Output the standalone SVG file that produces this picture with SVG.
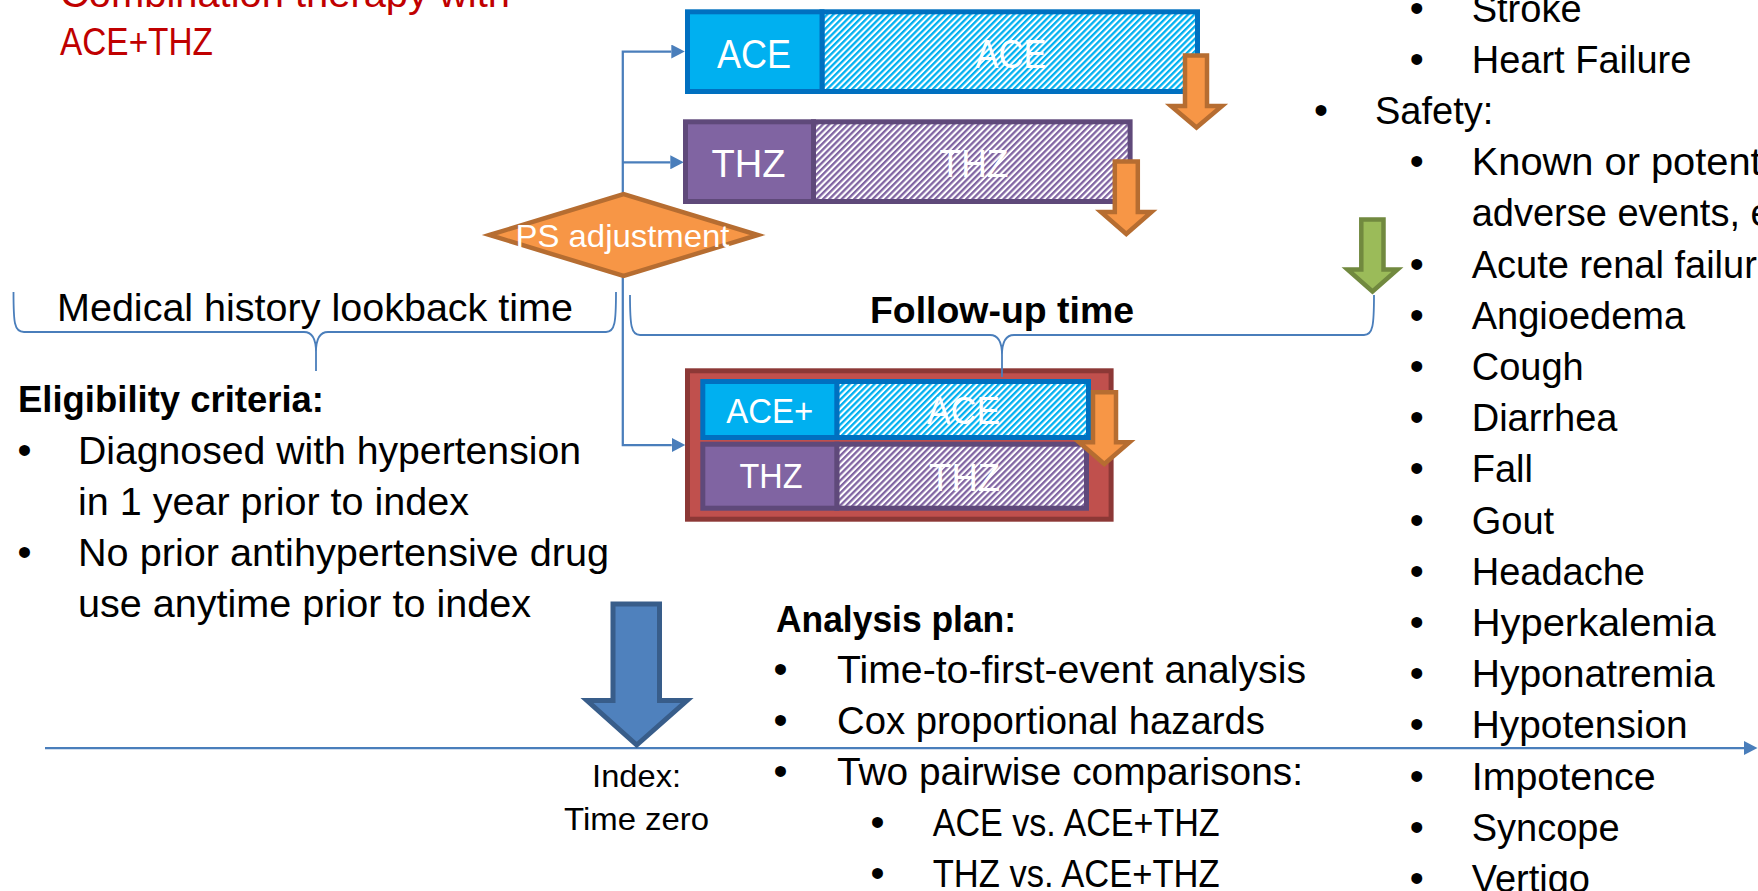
<svg xmlns="http://www.w3.org/2000/svg" width="1758" height="891" viewBox="0 0 1758 891">
<defs>
<style>
text { font-family: "Liberation Sans", Arial, sans-serif; }
.body { font-size: 38px; fill: #000; }
.bul { font-size: 40px; fill: #000; text-anchor: middle; }
.bold { font-size: 37px; font-weight: bold; fill: #000; }
.red { font-size: 39px; fill: #C00000; }
.wt { fill: #fff; text-anchor: middle; }
.conn { stroke: #4A7EBB; stroke-width: 2.25; fill: none; }
.brace { stroke: #4A7EBB; stroke-width: 1.8; fill: none; }
.ace { fill: #00B0F0; stroke: #0070C0; stroke-width: 5; }
.aceh { fill: url(#hatchBlue); stroke: #0070C0; stroke-width: 5; }
.thz { fill: #8064A2; stroke: #5F497A; stroke-width: 5; }
.thzh { fill: url(#hatchPurple); stroke: #5F497A; stroke-width: 5; }
.oarrow { fill: #F79646; stroke: #B66D31; stroke-width: 4.5; }
</style>
<pattern id="hatchBlue" patternUnits="userSpaceOnUse" width="4.4" height="4.4" patternTransform="rotate(45)">
<rect width="4.4" height="4.4" fill="#fff"/>
<rect width="2.3" height="4.4" fill="#00B0F0"/>
</pattern>
<pattern id="hatchPurple" patternUnits="userSpaceOnUse" width="4.4" height="4.4" patternTransform="rotate(45)">
<rect width="4.4" height="4.4" fill="#fff"/>
<rect width="2.3" height="4.4" fill="#8064A2"/>
</pattern>
<marker id="ah" markerUnits="userSpaceOnUse" markerWidth="14" markerHeight="14" refX="0" refY="7" orient="auto">
<path d="M0,0 L13.5,7 L0,14 z" fill="#4A7EBB"/>
</marker>
</defs>
<rect width="1758" height="891" fill="#fff"/>

<g id="title">
<text class="red" x="60" y="7" textLength="450" lengthAdjust="spacingAndGlyphs">Combination therapy with</text>
<text class="red" x="60" y="55" textLength="153" lengthAdjust="spacingAndGlyphs">ACE+THZ</text>
</g>

<g id="connectors">
<path class="conn" d="M 622.8 235 V 51.5 H 671.3" marker-end="url(#ah)"/>
<path class="conn" d="M 622.8 162.3 H 670.3" marker-end="url(#ah)"/>
<path class="conn" d="M 622.8 235 V 445 H 671.8" marker-end="url(#ah)"/>
<path class="conn" stroke-width="2.5" d="M 45 748 H 1744" marker-end="url(#ah)"/>
</g>

<g id="ace-arm">
<rect class="aceh" x="822" y="11.8" width="375.5" height="79.7"/>
<rect class="ace" x="687.5" y="11.8" width="134.5" height="79.7"/>
<text class="wt" x="754" y="68" font-size="40" textLength="74" lengthAdjust="spacingAndGlyphs">ACE</text>
<text class="wt" x="1011" y="68" font-size="40" textLength="71" lengthAdjust="spacingAndGlyphs">ACE</text>
</g>

<g id="thz-arm">
<rect class="thzh" x="813.5" y="121.8" width="316.6" height="79.7"/>
<rect class="thz" x="685.5" y="121.8" width="128" height="79.7"/>
<text class="wt" x="748.5" y="176.7" font-size="39" textLength="74" lengthAdjust="spacingAndGlyphs">THZ</text>
<text class="wt" x="974" y="176.5" font-size="39" textLength="69" lengthAdjust="spacingAndGlyphs">THZ</text>
</g>

<g id="combo-arm">
<rect x="687.5" y="370.8" width="423.6" height="148.4" fill="#C0504D" stroke="#8C3836" stroke-width="5"/>
<rect class="aceh" x="836.8" y="381.5" width="251.7" height="56"/>
<rect class="ace" x="702.8" y="381.5" width="134" height="56"/>
<rect class="thzh" x="836.8" y="444.2" width="249.7" height="64"/>
<rect class="thz" x="702.8" y="444.2" width="134" height="64"/>
<text class="wt" x="769.7" y="423.3" font-size="35" textLength="87" lengthAdjust="spacingAndGlyphs">ACE+</text>
<text class="wt" x="963.6" y="424" font-size="38" textLength="73" lengthAdjust="spacingAndGlyphs">ACE</text>
<text class="wt" x="771" y="488.3" font-size="35" textLength="63" lengthAdjust="spacingAndGlyphs">THZ</text>
<text class="wt" x="964.6" y="491" font-size="39" textLength="71" lengthAdjust="spacingAndGlyphs">THZ</text>
</g>

<g id="ps-adjustment">
<polygon points="489.5,235 623.6,194 757.8,235 623.6,276" fill="#F79646" stroke="#B66D31" stroke-width="4.5"/>
<text class="wt" x="622.5" y="246.7" font-size="32" textLength="214" lengthAdjust="spacingAndGlyphs">PS adjustment</text>
</g>

<g id="end-arrows">
<polygon class="oarrow" points="1185,55.5 1207,55.5 1207,106 1222,106 1196.5,127.5 1171,106 1185,106"/>
<polygon class="oarrow" points="1114.8,161.5 1137.8,161.5 1137.8,212 1151.5,212 1126.3,234 1101,212 1114.8,212"/>
<polygon class="oarrow" points="1093,392.3 1116,392.3 1116,442.3 1129.5,442.3 1104.3,464 1079,442.3 1093,442.3"/>
<polygon points="1361.3,219.5 1383.5,219.5 1383.5,269.5 1397.5,269.5 1372.5,291.5 1347.5,269.5 1361.3,269.5" fill="#9BBB59" stroke="#71893F" stroke-width="4.5"/>
</g>

<g id="braces">
<path class="brace" d="M 13.5 292 C 13.5 322 14 332 24 332 L 304 332 C 312 332 316 338 316 352 L 316 371 M 316 352 C 316 338 320 332 328 332 L 606 332 C 615 332 616 322 616 292"/>
<path class="brace" d="M 630 295 C 630 325 631 335 640 335 L 990 335 C 998 335 1002 341 1002 355 L 1002 377 M 1002 355 C 1002 341 1006 335 1014 335 L 1364 335 C 1373 335 1374 325 1374 295"/>
<text class="body" x="57" y="321" textLength="516" lengthAdjust="spacingAndGlyphs">Medical history lookback time</text>
<text class="bold" x="870" y="323" textLength="264" lengthAdjust="spacingAndGlyphs">Follow-up time</text>
</g>

<g id="index-arrow">
<polygon points="613,604 659.5,604 659.5,700.5 687,700.5 636.7,745 587,700.5 613,700.5" fill="#4F81BD" stroke="#385D8A" stroke-width="5"/>
<text x="636.6" y="786.7" font-size="32" text-anchor="middle" textLength="89" lengthAdjust="spacingAndGlyphs">Index:</text>
<text x="636.6" y="830" font-size="32" text-anchor="middle" textLength="145" lengthAdjust="spacingAndGlyphs">Time zero</text>
</g>

<g id="eligibility">
<text class="bold" x="18" y="412" textLength="306" lengthAdjust="spacingAndGlyphs">Eligibility criteria:</text>
<text class="bul" x="24.5" y="463.5">•</text>
<text class="body" x="78" y="463.5" textLength="503" lengthAdjust="spacingAndGlyphs">Diagnosed with hypertension</text>
<text class="body" x="78" y="514.5" textLength="391" lengthAdjust="spacingAndGlyphs">in 1 year prior to index</text>
<text class="bul" x="24.5" y="565.5">•</text>
<text class="body" x="78" y="565.5" textLength="531" lengthAdjust="spacingAndGlyphs">No prior antihypertensive drug</text>
<text class="body" x="78" y="616.5" textLength="453" lengthAdjust="spacingAndGlyphs">use anytime prior to index</text>
</g>

<g id="analysis-plan">
<text class="bold" x="776" y="631.5" textLength="240" lengthAdjust="spacingAndGlyphs">Analysis plan:</text>
<text class="bul" x="780.6" y="682.5">•</text>
<text class="body" x="837" y="682.5" textLength="469" lengthAdjust="spacingAndGlyphs">Time-to-first-event analysis</text>
<text class="bul" x="780.6" y="733.5">•</text>
<text class="body" x="837" y="733.5" textLength="428" lengthAdjust="spacingAndGlyphs">Cox proportional hazards</text>
<text class="bul" x="780.6" y="784.5">•</text>
<text class="body" x="837" y="784.5" textLength="466" lengthAdjust="spacingAndGlyphs">Two pairwise comparisons:</text>
<text class="bul" x="877.6" y="835.5">•</text>
<text class="body" x="932.7" y="835.5" textLength="287" lengthAdjust="spacingAndGlyphs">ACE vs. ACE+THZ</text>
<text class="bul" x="877.6" y="886.5">•</text>
<text class="body" x="932.7" y="886.5" textLength="287" lengthAdjust="spacingAndGlyphs">THZ vs. ACE+THZ</text>
</g>

<g id="outcomes">
<text class="bul" x="1416.7" y="21.5">•</text><text class="body" x="1471.7" y="21.5">Stroke</text>
<text class="bul" x="1416.7" y="72.7">•</text><text class="body" x="1471.7" y="72.7">Heart Failure</text>
<text class="bul" x="1321" y="123.9">•</text><text class="body" x="1375" y="123.9">Safety:</text>
<text class="bul" x="1416.7" y="175.1">•</text><text class="body" x="1471.7" y="175.1" textLength="290" lengthAdjust="spacingAndGlyphs">Known or potent</text>
<text class="body" x="1471.7" y="226.3">adverse events, e</text>
<text class="bul" x="1416.7" y="277.5">•</text><text class="body" x="1471.7" y="277.5">Acute renal failur</text>
<text class="bul" x="1416.7" y="328.7">•</text><text class="body" x="1471.7" y="328.7">Angioedema</text>
<text class="bul" x="1416.7" y="379.9">•</text><text class="body" x="1471.7" y="379.9">Cough</text>
<text class="bul" x="1416.7" y="431.1">•</text><text class="body" x="1471.7" y="431.1">Diarrhea</text>
<text class="bul" x="1416.7" y="482.3">•</text><text class="body" x="1471.7" y="482.3">Fall</text>
<text class="bul" x="1416.7" y="533.5">•</text><text class="body" x="1471.7" y="533.5">Gout</text>
<text class="bul" x="1416.7" y="584.7">•</text><text class="body" x="1471.7" y="584.7">Headache</text>
<text class="bul" x="1416.7" y="635.9">•</text><text class="body" x="1471.7" y="635.9" textLength="244" lengthAdjust="spacingAndGlyphs">Hyperkalemia</text>
<text class="bul" x="1416.7" y="687.1">•</text><text class="body" x="1471.7" y="687.1" textLength="243" lengthAdjust="spacingAndGlyphs">Hyponatremia</text>
<text class="bul" x="1416.7" y="738.3">•</text><text class="body" x="1471.7" y="738.3" textLength="216" lengthAdjust="spacingAndGlyphs">Hypotension</text>
<text class="bul" x="1416.7" y="789.5">•</text><text class="body" x="1471.7" y="789.5" textLength="184" lengthAdjust="spacingAndGlyphs">Impotence</text>
<text class="bul" x="1416.7" y="840.7">•</text><text class="body" x="1471.7" y="840.7">Syncope</text>
<text class="bul" x="1416.7" y="891.9">•</text><text class="body" x="1471.7" y="891.9">Vertigo</text>
</g>
</svg>
